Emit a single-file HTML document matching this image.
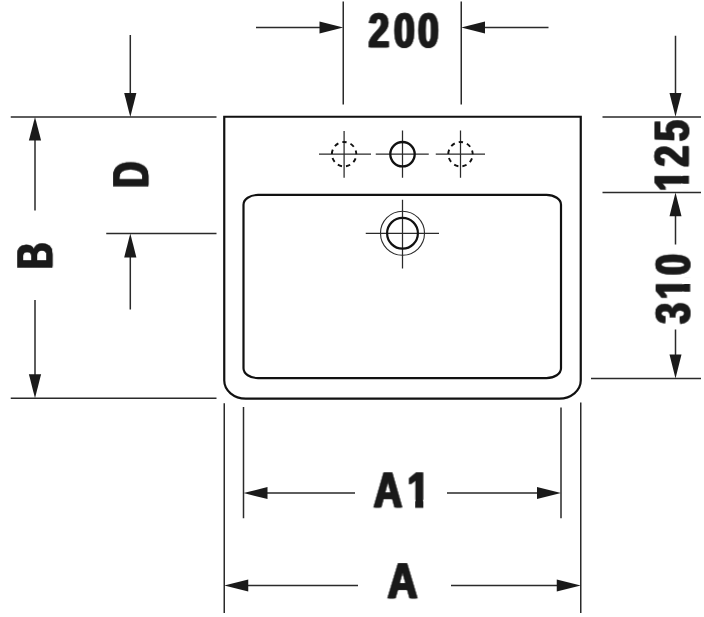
<!DOCTYPE html>
<html>
<head>
<meta charset="utf-8">
<title>Washbasin technical drawing</title>
<style>
html,body{margin:0;padding:0;background:#fff;}
body{width:704px;height:617px;overflow:hidden;}
svg{display:block;}
.t{font-family:"Liberation Sans",sans-serif;font-weight:bold;fill:#1a1a1a;stroke:#1a1a1a;stroke-width:0.6;stroke-linejoin:miter;text-rendering:geometricPrecision;}
.thin{stroke:#2a2a2a;stroke-width:1.5;fill:none;}
.thick{stroke:#111;stroke-width:2.2;fill:none;}
.ah{fill:#1a1a1a;stroke:none;}
</style>
</head>
<body>
<svg width="704" height="617" viewBox="0 0 704 617">
<defs>
<filter id="bx" x="-10%" y="-10%" width="120%" height="120%" color-interpolation-filters="sRGB">
<feOffset in="SourceGraphic" dx="1.4" dy="0" result="a"/>
<feOffset in="SourceGraphic" dx="-1.4" dy="0" result="b"/>
<feMerge><feMergeNode in="a"/><feMergeNode in="b"/><feMergeNode in="SourceGraphic"/></feMerge>
</filter>
<filter id="bx2" x="-10%" y="-10%" width="120%" height="120%" color-interpolation-filters="sRGB">
<feOffset in="SourceGraphic" dx="0.9" dy="0" result="a"/>
<feOffset in="SourceGraphic" dx="-0.9" dy="0" result="b"/>
<feMerge><feMergeNode in="a"/><feMergeNode in="b"/><feMergeNode in="SourceGraphic"/></feMerge>
</filter>
<clipPath id="c125" clipPathUnits="userSpaceOnUse"><path clip-rule="evenodd" d="M-400 -400H400V400H-400Z M0.35 -7.45H9.62V2.50H0.35Z M19.67 -7.45H28.32V2.50H19.67Z"/></clipPath>
<clipPath id="c310" clipPathUnits="userSpaceOnUse"><path clip-rule="evenodd" d="M-400 -400H400V400H-400Z M31.96 -7.45H41.22V2.50H31.96Z M51.28 -7.45H59.92V2.50H51.28Z"/></clipPath>
<clipPath id="cA1" clipPathUnits="userSpaceOnUse"><path clip-rule="evenodd" d="M-400 -400H400V400H-400Z M42.95 -7.60H52.47V2.50H42.95Z M62.73 -7.60H71.61V2.50H62.73Z"/></clipPath>
</defs>
<rect x="0" y="0" width="704" height="617" fill="#ffffff"/>

<!-- basin outer -->
<path class="thick" d="M224.25 116.75 H580.75 V380.6 A21.5 18 0 0 1 559.25 398.6 H245.75 A21.5 18 0 0 1 224.25 380.6 Z"/>
<!-- basin inner -->
<path class="thick" d="M258.0 194.9 H546.5 A14.5 9.75 0 0 1 561.0 204.65 V368.35 A14.5 9.75 0 0 1 546.5 378.1 H258.0 A14.5 9.75 0 0 1 243.5 368.35 V204.65 A14.5 9.75 0 0 1 258.0 194.9 Z"/>

<!-- tap holes -->
<g class="thin" style="stroke-width:1.25">
<path d="M319 154.2 H371 M344.1 131 V177.75"/>
<path d="M375.75 154.2 H428.75 M402.5 130.5 V177.75"/>
<path d="M435.75 154.2 H485 M460.5 130.5 V177.75"/>
<path d="M365.75 233.25 H439 M402.5 199.75 V268.5"/>
<circle cx="402.5" cy="233.25" r="22" style="stroke-width:1.1"/>
</g>
<circle cx="344.1" cy="154.2" r="12.2" fill="none" stroke="#111" stroke-width="1.9" stroke-dasharray="4.4 4.117" stroke-dashoffset="4.33"/>
<circle cx="460.5" cy="154.2" r="12.2" fill="none" stroke="#111" stroke-width="1.9" stroke-dasharray="4.4 4.117" stroke-dashoffset="4.33"/>
<circle cx="402.5" cy="154.2" r="12.2" class="thick" style="stroke-width:2.3"/>
<circle cx="402.5" cy="233.25" r="15.4" class="thick" style="stroke-width:2.2"/>

<!-- top 200 dimension -->
<g class="thin">
<path d="M343.25 1.5 V104.5 M461.25 1.5 V104.5"/>
<path d="M256 27.5 H325 M480 27.5 H548.5"/>
</g>
<path class="ah" d="M343.25 27.5 L319.5 21.5 V33.5 Z"/>
<path class="ah" d="M461.25 27.5 L485 21.5 V33.5 Z"/>
<text class="t" filter="url(#bx)" transform="translate(368.40 47.1) rotate(0.03) scale(0.7753 1)" x="0.00 32.83 63.72" y="0" font-size="48.5">200</text>

<!-- left B / D dimension -->
<g class="thin">
<path d="M10.75 117 H216.5 M10.75 398.3 H216.5 M106.25 233.5 H216.5"/>
<path d="M35 135 V210.5 M35 300 V380"/>
<path d="M130.3 35 V98 M130.3 252 V309.5"/>
</g>
<path class="ah" d="M35 117 L28.9 140.6 H41.1 Z"/>
<path class="ah" d="M35 398.3 L28.9 374.3 H41.1 Z"/>
<path class="ah" d="M130.3 117 L124.2 93 H136.4 Z"/>
<path class="ah" d="M130.3 233.5 L124.2 257.4 H136.4 Z"/>
<text class="t" filter="url(#bx2)" transform="translate(52.2 269.00) rotate(-89.97) scale(0.722 1)" x="0.00" y="0" font-size="50.5">B</text>
<text class="t" filter="url(#bx2)" transform="translate(148.1 187.75) rotate(-89.97) scale(0.712 1)" x="0.00" y="0" font-size="50.5">D</text>

<!-- right 125 / 310 dimension -->
<g class="thin">
<path d="M602.5 116.9 H701 M602.5 192.6 H701 M591 378.4 H701"/>
<path d="M675.5 35.75 V98 M675.5 211 V244.6 M675.5 329.5 V359"/>
</g>
<path class="ah" d="M675.5 116.75 L669.5 93 H681.5 Z"/>
<path class="ah" d="M675.5 192.5 L669.5 216.25 H681.5 Z"/>
<path class="ah" d="M675.5 378.4 L669.5 354.5 H681.5 Z"/>
<text class="t" filter="url(#bx)" clip-path="url(#c125)" transform="translate(688.4 191.10) rotate(-89.97) scale(0.7753 1)" x="0.00 31.73 64.62" y="0" font-size="48.5">125</text>
<text class="t" filter="url(#bx)" clip-path="url(#c310)" transform="translate(689.6 323.80) rotate(-89.97) scale(0.7753 1)" x="0.00 31.60 63.01" y="0" font-size="48.5">310</text>

<!-- bottom A1 / A dimension -->
<g class="thin">
<path d="M224.25 403.25 V613 M580.75 402.5 V613"/>
<path d="M243.5 407 V518.3 M561 407.5 V518.3"/>
<path d="M262 493 H355 M447 493 H542"/>
<path d="M243 585.5 H358 M451 585.5 H562"/>
</g>
<path class="ah" d="M243.5 493 L267.5 487 V499 Z"/>
<path class="ah" d="M561 493 L537 487 V499 Z"/>
<path class="ah" d="M224.25 585.5 L248.25 579.5 V591.5 Z"/>
<path class="ah" d="M580.75 585.5 L556.75 579.5 V591.5 Z"/>
<text class="t" filter="url(#bx)" clip-path="url(#cA1)" transform="translate(373.60 507.25) rotate(0.03) scale(0.793 1)" x="0.00 42.50" y="0" font-size="50">A1</text>
<text class="t" filter="url(#bx)" transform="translate(387.50 598.1) rotate(0.03) scale(0.825 1)" x="0.00" y="0" font-size="50.5">A</text>
</svg>
</body>
</html>
